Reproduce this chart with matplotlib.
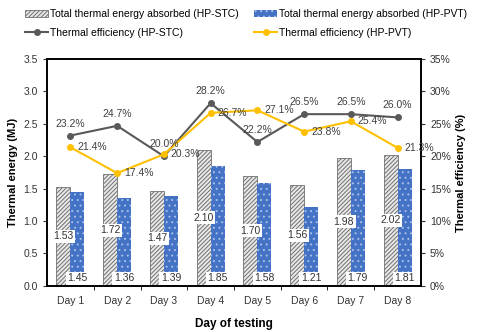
import numpy as np
import matplotlib
matplotlib.use("Agg")
import matplotlib.pyplot as plt
from matplotlib.ticker import FuncFormatter, FixedLocator

plt.rcParams['font.family'] = ['Liberation Sans', 'DejaVu Sans']
plt.rcParams['hatch.linewidth'] = 0.7

# Data
days = ['Day 1', 'Day 2', 'Day 3', 'Day 4', 'Day 5', 'Day 6', 'Day 7', 'Day 8']
energy_stc = [1.53, 1.72, 1.47, 2.10, 1.70, 1.56, 1.98, 2.02]
energy_pvt = [1.45, 1.36, 1.39, 1.85, 1.58, 1.21, 1.79, 1.81]
eff_stc = [23.2, 24.7, 20.0, 28.2, 22.2, 26.5, 26.5, 26.0]
eff_pvt = [21.4, 17.4, 20.3, 26.7, 27.1, 23.8, 25.4, 21.3]

x = np.arange(len(days))
w = 0.3
fs = 7.5

fig = plt.figure(figsize=(4.8, 3.32), dpi=100)
fig.patch.set_facecolor('white')
ax = fig.add_axes([0.098, 0.139, 0.779, 0.683])
ax2 = ax.twinx()

b1 = ax.bar(x - w/2, energy_stc, w, color='#e8e8e8', edgecolor='#707070',
            hatch='////////', linewidth=0.6, label='Total thermal energy absorbed (HP-STC)')
b2 = ax.bar(x + w/2, energy_pvt, w, color='#4472C4', edgecolor='#a8bfe8',
            hatch='...', linewidth=0, label='Total thermal energy absorbed (HP-PVT)')

bbox = dict(boxstyle='square,pad=0.15', facecolor='white', edgecolor='none')
for i in range(len(days)):
    ax.text(x[i] - w/2, energy_stc[i] / 2, f'{energy_stc[i]:.2f}', ha='center',
            va='center', fontsize=fs, color='#333333', bbox=bbox, zorder=5)
    ax.text(x[i] + w/2, 0.12, f'{energy_pvt[i]:.2f}', ha='center',
            va='center', fontsize=fs, color='#333333', bbox=bbox, zorder=5)

l1, = ax2.plot(x, eff_stc, '-o', color='#595959', lw=1.5, ms=4,
               label='Thermal efficiency (HP-STC)')
l2, = ax2.plot(x, eff_pvt, '-o', color='#FFC000', lw=1.5, ms=4,
               label='Thermal efficiency (HP-PVT)')
for i in range(len(days)):
    ax2.annotate(f'{eff_stc[i]:.1f}%', (x[i], eff_stc[i]), xytext=(0, 5),
                 textcoords='offset points', ha='center', va='bottom',
                 fontsize=fs, color='#404040')
    ax2.annotate(f'{eff_pvt[i]:.1f}%', (x[i], eff_pvt[i]), xytext=(5, 0),
                 textcoords='offset points', ha='left', va='center',
                 fontsize=fs, color='#404040')

ax.set_xlim(-0.5, len(days) - 0.5)
ax.set_ylim(0, 3.5)
ax.set_yticks(np.arange(0, 3.51, 0.5))
ax.yaxis.set_major_formatter(FuncFormatter(lambda v, p: f'{v:.1f}'))
ax2.set_ylim(0, 35)
ax2.set_yticks(np.arange(0, 36, 5))
ax2.yaxis.set_major_formatter(FuncFormatter(lambda v, p: f'{v:.0f}%'))

ax.set_xticks(x)
ax.set_xticklabels(days)
ax.xaxis.set_minor_locator(FixedLocator(np.arange(0.5, len(days) - 0.5, 1)))
ax.tick_params(axis='x', which='major', length=0, labelsize=fs, pad=7, colors='#333333')
ax.tick_params(axis='x', which='minor', length=3, direction='out')
ax.tick_params(axis='y', labelsize=fs, length=3, colors='#333333')
ax2.tick_params(axis='y', labelsize=fs, length=3, colors='#333333')
for a in (ax, ax2):
    for s in a.spines.values():
        s.set_linewidth(1.2)

ax.set_xlabel('Day of testing', fontsize=8.5, fontweight='bold', labelpad=9)
ax.set_ylabel('Thermal energy (MJ)', fontsize=8, fontweight='bold')
ax2.set_ylabel('Thermal efficiency (%)', fontsize=8, fontweight='bold')

fig.legend([b1, l1, b2, l2], [b1.get_label(), l1.get_label(), b2.get_label(), l2.get_label()],
           loc='upper center', bbox_to_anchor=(0.513, 1.0), ncol=2, frameon=False,
           fontsize=fs, handlelength=2.2, handleheight=0.6, columnspacing=1.45,
           handletextpad=0.2, labelspacing=0.8)

fig.savefig('out.png', dpi=100)
